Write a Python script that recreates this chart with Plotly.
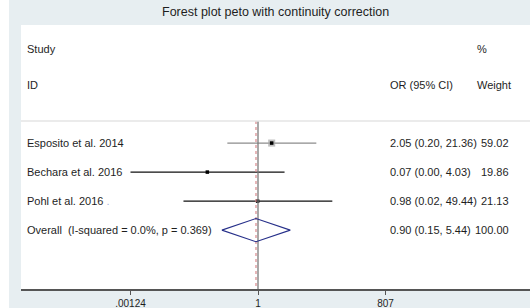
import plotly.graph_objects as go

# ---- data ----
studies = ["Esposito et al. 2014", "Bechara et al. 2016", "Pohl et al. 2016"]
or_vals = [2.05, 0.07, 0.98]
ci_low = [0.20, 0.00124, 0.02]
ci_high = [21.36, 4.03, 49.44]
weights = [59.02, 19.86, 21.13]
overall_or = 0.90
overall_low = 0.15
overall_high = 5.44
overall_weight = 100.00
i_squared = 0.0
p_het = 0.369
tick_vals = [0.00124, 1, 807]
tick_text = [".00124", "1", "807"]
title = "Forest plot peto with continuity correction"

# ---- styles ----
W, H = 530, 308
ML, MR, MT, MB = 21, 0, 25, 19
PW, PH = W - ML - MR, H - MT - MB
BG = "#e7eef1"
FONT = "Arial, Liberation Sans, sans-serif"
TXT = "#1e1e1e"
line_colors = ["#8c8c8c", "#111111", "#111111"]

rows = list(range(len(studies)))
overall_row = len(studies)
Y_TOP, Y_BOT = -4.07, 5.03  # row units


def px(x):
    return (x - ML) / PW


def py(y):
    return 1 - (y - MT) / PH


fig = go.Figure()

# CI lines
for i, r in enumerate(rows):
    fig.add_trace(go.Scatter(
        x=[ci_low[i], ci_high[i]], y=[r, r], mode="lines",
        line=dict(color=line_colors[i], width=1.3), showlegend=False, hoverinfo="skip"))

# weight boxes
fig.add_trace(go.Scatter(
    x=or_vals, y=rows, mode="markers",
    marker=dict(symbol="square", size=[w * 0.12 for w in weights], color="#a6a6a6",
                line=dict(width=0)),
    showlegend=False, hoverinfo="skip"))
# point estimates
fig.add_trace(go.Scatter(
    x=or_vals, y=rows, mode="markers",
    marker=dict(symbol="square", size=3.5, color="#000000"),
    showlegend=False, hoverinfo="skip"))

# reference lines
sep_row = -0.76
fig.add_trace(go.Scatter(
    x=[1, 1], y=[sep_row, Y_BOT], mode="lines",
    line=dict(color="#7a7a7a", width=1.3), showlegend=False, hoverinfo="skip"))
fig.add_trace(go.Scatter(
    x=[overall_or, overall_or], y=[sep_row, Y_BOT], mode="lines",
    line=dict(color="#d9898c", width=1.2, dash="dot"), showlegend=False, hoverinfo="skip"))

# overall diamond
dh = 0.4
fig.add_trace(go.Scatter(
    x=[overall_low, overall_or, overall_high, overall_or, overall_low],
    y=[overall_row, overall_row - dh, overall_row, overall_row + dh, overall_row],
    mode="lines", line=dict(color="#27308a", width=1.1),
    showlegend=False, hoverinfo="skip"))

# separator line
fig.add_shape(type="line", xref="paper", yref="y", x0=0, x1=1, y0=sep_row, y1=sep_row,
              line=dict(color="#e4e4e4", width=1.5))

# white strip at far left
fig.add_shape(type="rect", xref="paper", yref="paper",
              x0=px(0), x1=px(9), y0=py(H), y1=py(0),
              fillcolor="white", line=dict(width=0), layer="below")

ann = []


def txt(x, y, s, anchor="left", yref="y", size=11):
    ann.append(dict(x=x, y=y, xref="paper", yref=yref, text=s, showarrow=False,
                    xanchor=anchor, yanchor="middle",
                    font=dict(family=FONT, size=size, color=TXT)))


X_STUDY = px(25)
X_OR = px(388)
X_W = px(511)
X_PCT = px(475)

txt(X_STUDY, -3.25, "Study")
txt(X_PCT, -3.25, "%")
txt(X_STUDY, -2.0, "ID")
txt(X_OR, -2.0, "OR (95% CI)")
txt(X_PCT, -2.0, "Weight")

for i, r in enumerate(rows):
    label = studies[i]
    if i == 2:
        label += ' <span style="color:#aab4d6">.</span>'
    txt(X_STUDY, r, label)
    txt(X_OR, r, f"{or_vals[i]:.2f} ({ci_low[i]:.2f}, {ci_high[i]:.2f})")
    txt(X_W, r, f"{weights[i]:.2f}", anchor="right")

txt(X_STUDY, overall_row, f"Overall  (I-squared = {i_squared:.1f}%, p = {p_het:.3f})")
txt(X_OR, overall_row, f"{overall_or:.2f} ({overall_low:.2f}, {overall_high:.2f})")
txt(X_W, overall_row, f"{overall_weight:.2f}", anchor="right")

ann.append(dict(x=px(275), y=py(12), xref="paper", yref="paper", text=title,
                showarrow=False, xanchor="center", yanchor="middle",
                font=dict(family=FONT, size=12.5, color=TXT)))

x_left = (ML - 258) / 43.87
x_right = (W - 258) / 43.87

fig.update_layout(
    width=W, height=H,
    margin=dict(l=ML, r=MR, t=MT, b=MB),
    paper_bgcolor=BG, plot_bgcolor="white",
    annotations=ann,
    xaxis=dict(type="log", range=[x_left, x_right], tickvals=tick_vals, ticktext=tick_text,
               showgrid=False, zeroline=False, showline=True, linecolor="#555555",
               linewidth=1.5, ticks="outside", ticklen=4, tickcolor="#555555",
               tickfont=dict(family=FONT, size=10, color=TXT), fixedrange=True),
    yaxis=dict(range=[Y_BOT, Y_TOP], visible=False, showgrid=False, zeroline=False),
    showlegend=False,
)

fig.write_html("out.html", config={"displayModeBar": False},
               post_script="document.body.style.margin='0';document.body.style.overflow='hidden';")
